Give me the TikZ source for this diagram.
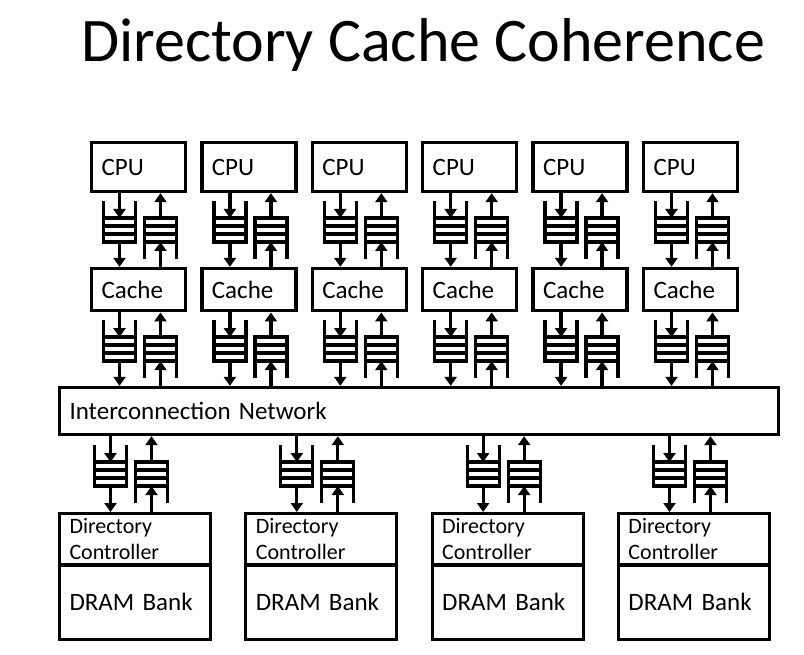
\documentclass[tikz,border=0pt]{standalone}
\usepackage{fontspec}
\setmainfont{Carlito}
\usetikzlibrary{positioning, arrows.meta, calc}

\tikzset{
    queueLine/.style={draw, line width=3.3pt},
    % two queues side by side: left one goes down, right one goes up
    queuePair/.pic={
        \draw[queueLine] (-36.5,29) -- (-36.5,-12) -- (-4.5,-12) -- (-4.5,29);
        \foreach \s in {-4,4,12} \draw[queueLine] (-36.5,\s) -- (-4.5,\s);
        \draw[queueLine] (4.5,-29) -- (4.5,12) -- (36.5,12) -- (36.5,-29);
        \foreach \s in {-12,-4,4} \draw[queueLine] (4.5,\s) -- (36.5,\s);
        \coordinate (-din) at (-20.5,12);
        \coordinate (-dout) at (-20.5,-12);
        \coordinate (-uin) at (20.5,-12);
        \coordinate (-uout) at (20.5,12);
    }
}

\begin{document}
\begin{tikzpicture}[
    x=1pt, y=1pt,
    font=\fontsize{25}{29}\selectfont,
    block/.style={
        draw,
        rectangle,
        line width=3.3pt,
        text width=74pt,
        inner xsep=10pt,
        align=left
    },
    wideblock/.style={
        block,
        text width=699pt,
        minimum height=47pt
    },
    dirblock/.style={
        block,
        text width=131pt
    },
    arrowLine/.style={
        draw,
        line width=3.3pt,
        -{Triangle[length=9pt, width=12pt]}
    }
]
\useasboundingbox (0,0) rectangle (804,-655);

% --- Title ---
\node[font=\fontsize{62}{70}\selectfont, anchor=base] (title) at (423,-62) {Directory Cache Coherence};

% --- CPUs and Caches ---
\foreach \i in {1,...,6} {
    \node[block, minimum height=49pt] (cpu\i) at ({138.5+110.4*(\i-1)},-167) {CPU};
    \node[block, minimum height=42.3pt, below=73.7pt of cpu\i] (cache\i) {Cache};
}

% --- Interconnection Network ---
\node[wideblock] (net) at (419,-411) {Interconnection Network};

% --- Directory Controllers and DRAM Banks ---
\foreach \i in {1,...,4} {
    \node[dirblock, minimum height=51.4pt, anchor=north, font=\fontsize{22}{26}\selectfont] (dir\i) at ({135+186.33*(\i-1)},-512) {Directory\\Controller};
    \node[dirblock, minimum height=74.4pt, below=-3.3pt of dir\i] (dram\i) {DRAM Bank};
}

% --- Queues ---
\foreach \i in {1,...,6} {
    \path (cache\i.south |- net.north) coordinate (nt\i);
    \pic (qa\i) at ($(cpu\i.south)!0.5!(cache\i.north)+(1.5,0)$) {queuePair};
    \pic (qb\i) at ($(cache\i.south)!0.5!(nt\i)+(1.5,0)$) {queuePair};
}
\foreach \i in {1,...,4} {
    \path (dir\i.north |- net.south) coordinate (nb\i);
    \pic (qc\i) at ($(nb\i)!0.5!(dir\i.north)+(-4,0)$) {queuePair};
}

% --- Connections ---
\foreach \i in {1,...,6} {
    % CPU <-> Cache
    \draw[arrowLine] (cpu\i.south -| qa\i-din) -- (qa\i-din);
    \draw[arrowLine] (qa\i-dout) -- (cache\i.north -| qa\i-dout);
    \draw[arrowLine] (cache\i.north -| qa\i-uin) -- (qa\i-uin);
    \draw[arrowLine] (qa\i-uout) -- (cpu\i.south -| qa\i-uout);
    % Cache <-> Network
    \draw[arrowLine] (cache\i.south -| qb\i-din) -- (qb\i-din);
    \draw[arrowLine] (qb\i-dout) -- (net.north -| qb\i-dout);
    \draw[arrowLine] (net.north -| qb\i-uin) -- (qb\i-uin);
    \draw[arrowLine] (qb\i-uout) -- (cache\i.south -| qb\i-uout);
}
\foreach \i in {1,...,4} {
    % Network <-> Directory
    \draw[arrowLine] (net.south -| qc\i-din) -- (qc\i-din);
    \draw[arrowLine] (qc\i-dout) -- (dir\i.north -| qc\i-dout);
    \draw[arrowLine] (dir\i.north -| qc\i-uin) -- (qc\i-uin);
    \draw[arrowLine] (qc\i-uout) -- (net.south -| qc\i-uout);
}

\end{tikzpicture}
\end{document}
